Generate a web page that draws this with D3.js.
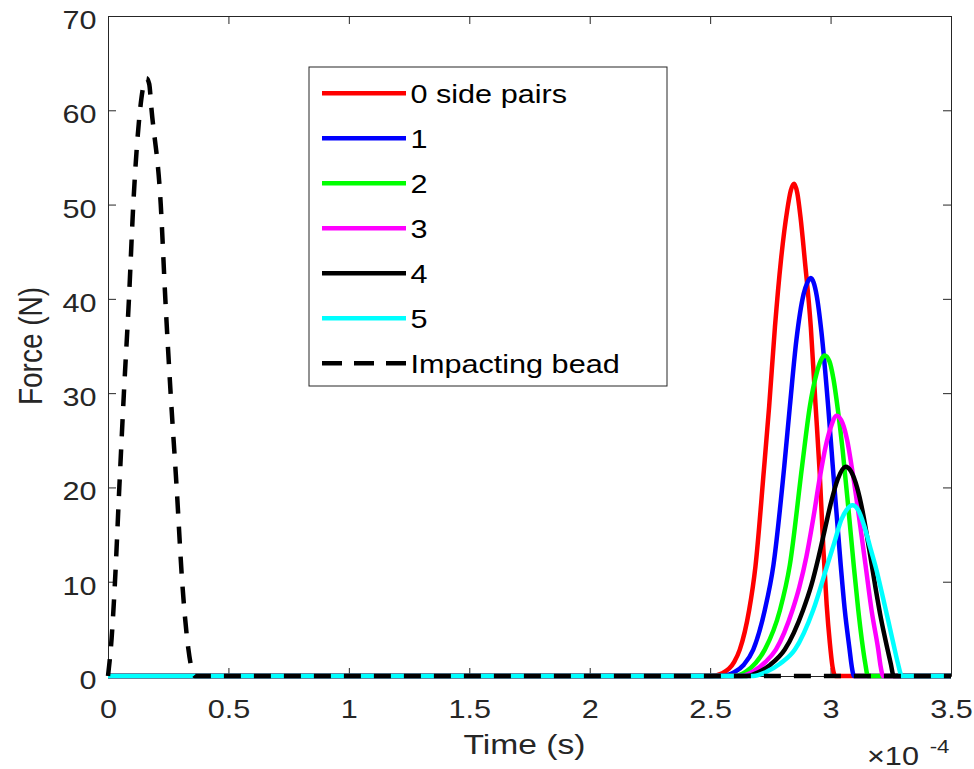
<!DOCTYPE html>
<html>
<head>
<meta charset="utf-8">
<script src="https://cdn.jsdelivr.net/npm/d3@7"></script>
<style>
  html, body { margin: 0; padding: 0; background: #ffffff; }
  svg { display: block; font-family: "Liberation Sans", Arial, Helvetica, sans-serif; }
</style>
</head>
<body>
<svg id="chart" width="974" height="769"></svg>
<script>
// Axis ticks
const xTickValues = [0, 0.5, 1, 1.5, 2, 2.5, 3, 3.5];
const xTickLabels = ["0", "0.5", "1", "1.5", "2", "2.5", "3", "3.5"];
const yTickValues = [0, 10, 20, 30, 40, 50, 60, 70];
const yTickLabels = ["0", "10", "20", "30", "40", "50", "60", "70"];

// Legend entries and colours
const seriesNames = ["0 side pairs", "1", "2", "3", "4", "5", "Impacting bead"];
const seriesColors = ["#ff0000", "#0000ff", "#00ff00", "#ff00ff", "#000000", "#00ffff", "#000000"];

// Force histories: [time (x1e-4 s), force (N)]
const sidePairs0 = [[0,0],[2.50,0],[2.55,0.3],[2.60,1.5],[2.623,2.8],[2.662,7.0],[2.688,11.6],[2.723,21.8],[2.745,28.6],[2.769,37.0],[2.794,44.1],[2.82,49.4],[2.835,51.5],[2.849,52.2],[2.862,51.2],[2.875,48.7],[2.893,44.1],[2.918,37.0],[2.937,29.0],[2.955,21.5],[2.97,13.5],[2.984,7.5],[2.997,3.5],[3.008,1.0],[3.02,0],[3.5,0]];
const sidePairs1 = [[0,0],[2.55,0],[2.60,0.4],[2.64,1.2],[2.679,2.8],[2.727,7.0],[2.763,11.8],[2.808,22.3],[2.831,28.6],[2.858,35.6],[2.888,40.5],[2.903,41.7],[2.918,42.2],[2.93,41.7],[2.942,40.4],[2.962,36.5],[2.99,28.6],[3.009,22.3],[3.042,11.8],[3.059,7.0],[3.078,3.0],[3.088,1.0],[3.097,0],[3.5,0]];
const sidePairs2 = [[0,0],[2.60,0],[2.65,0.5],[2.69,1.4],[2.727,2.8],[2.79,7.0],[2.831,11.8],[2.882,22.3],[2.914,28.6],[2.942,32.1],[2.96,33.5],[2.976,34.0],[2.995,33.4],[3.012,31.5],[3.03,28.3],[3.05,24.0],[3.075,17.5],[3.097,11.5],[3.115,7.0],[3.13,3.8],[3.143,1.5],[3.155,0],[3.5,0]];
const sidePairs3 = [[0,0],[2.63,0],[2.68,0.5],[2.73,1.5],[2.773,2.8],[2.842,7.0],[2.87,9.4],[2.90,12.7],[2.93,17.0],[2.955,21.0],[2.98,24.4],[3.0,26.3],[3.025,27.6],[3.05,26.8],[3.069,25.0],[3.087,22.3],[3.145,11.8],[3.17,7.0],[3.198,2.8],[3.208,1.0],[3.218,0],[3.5,0]];
const sidePairs4 = [[0,0],[2.65,0],[2.70,0.4],[2.75,1.2],[2.81,2.8],[2.886,7.0],[2.92,9.6],[2.95,12.6],[2.975,15.4],[3.0,18.2],[3.03,20.9],[3.063,22.2],[3.085,21.7],[3.11,20.0],[3.135,17.2],[3.16,13.5],[3.185,9.6],[3.21,6.0],[3.235,3.0],[3.25,1.3],[3.262,0],[3.5,0]];
const sidePairs5 = [[0,0],[2.68,0],[2.73,0.4],[2.79,1.3],[2.852,2.8],[2.928,7.0],[2.987,11.8],[3.015,14.1],[3.045,16.6],[3.066,17.6],[3.091,18.1],[3.115,17.6],[3.14,15.9],[3.165,13.6],[3.19,11.3],[3.215,8.6],[3.24,5.8],[3.262,3.3],[3.28,1.3],[3.296,0],[3.5,0]];
const impactingBead = [[0,0],[0.015,4],[0.029,10],[0.047,20],[0.066,30],[0.087,40],[0.105,50],[0.133,60],[0.147,62.6],[0.16,63.4],[0.171,62.8],[0.181,60],[0.219,50],[0.238,40],[0.26,30],[0.285,20],[0.308,10],[0.333,3],[0.361,0],[3.5,0]];

const allSeries = [sidePairs0, sidePairs1, sidePairs2, sidePairs3, sidePairs4, sidePairs5, impactingBead];

// ---- layout ----
const plot = { left: 108, right: 951, top: 16, bottom: 676 };
const axisColor = "#262626";
const textStretch = 1.2;      // horizontal stretch of all lettering
const tickFont = 25.5;
const labelFont = 28;

const svg = d3.select("#chart");
const x = d3.scaleLinear().domain([0, 3.5]).range([plot.left, plot.right]);
const y = d3.scaleLinear().domain([0, 70]).range([plot.bottom, plot.top]);

// text placed at (px, py), stretched horizontally about its anchor
function addText(parent, px, py, str, size, anchor, fill) {
  return parent.append("g")
    .attr("transform", `translate(${px},${py})`)
    .append("text")
    .attr("transform", `scale(${textStretch},1)`)
    .attr("text-anchor", anchor)
    .attr("font-size", size)
    .attr("fill", fill)
    .text(str);
}

// ---- axes (box with inward ticks) ----
function styleAxis(g) {
  g.select(".domain").attr("stroke", axisColor).attr("stroke-width", 1);
  g.selectAll(".tick line").attr("stroke", axisColor).attr("stroke-width", 1);
}

const xAxis = svg.append("g")
  .attr("transform", `translate(0,${plot.bottom})`)
  .call(d3.axisBottom(x).tickValues(xTickValues).tickFormat((d, i) => xTickLabels[i])
    .tickSizeInner(-8).tickSizeOuter(0))
  .call(styleAxis);
xAxis.selectAll(".tick text")
  .attr("y", 42).attr("dy", 0)
  .attr("font-size", tickFont).attr("fill", axisColor)
  .attr("font-family", "Liberation Sans, Arial, sans-serif")
  .attr("transform", `scale(${textStretch},1)`);

const yAxis = svg.append("g")
  .attr("transform", `translate(${plot.left},0)`)
  .call(d3.axisLeft(y).tickValues(yTickValues).tickFormat((d, i) => yTickLabels[i])
    .tickSizeInner(-8).tickSizeOuter(0))
  .call(styleAxis);
yAxis.selectAll(".tick text")
  .attr("x", -11.5 / textStretch).attr("dy", 12.5)
  .attr("font-size", tickFont).attr("fill", axisColor)
  .attr("font-family", "Liberation Sans, Arial, sans-serif")
  .attr("transform", `scale(${textStretch},1)`);

svg.append("g")
  .attr("transform", `translate(0,${plot.top})`)
  .call(d3.axisTop(x).tickValues(xTickValues).tickFormat("").tickSizeInner(-8).tickSizeOuter(0))
  .call(styleAxis);
svg.append("g")
  .attr("transform", `translate(${plot.right},0)`)
  .call(d3.axisRight(y).tickValues(yTickValues).tickFormat("").tickSizeInner(-8).tickSizeOuter(0))
  .call(styleAxis);

// ---- data lines ----
const line = d3.line()
  .x(d => x(d[0]))
  .y(d => y(d[1]))
  .curve(d3.curveMonotoneX);

allSeries.forEach((s, i) => {
  const dashed = i === allSeries.length - 1;
  svg.append("path")
    .datum(s)
    .attr("d", line)
    .attr("fill", "none")
    .attr("stroke", seriesColors[i])
    .attr("stroke-width", 4.5)
    .attr("stroke-linejoin", "round")
    .attr("stroke-dasharray", dashed ? "17 13" : null);
});

// ---- axis labels ----
addText(svg, (plot.left + plot.right) / 2 - 5, 754, "Time (s)", labelFont, "middle", axisColor);

svg.append("g")
  .attr("transform", `translate(42,${(plot.top + plot.bottom) / 2}) scale(${textStretch},1) rotate(-90)`)
  .append("text")
  .attr("text-anchor", "middle")
  .attr("font-size", labelFont)
  .attr("fill", axisColor)
  .text("Force (N)");

// exponent of the time axis
const expo = svg.append("g").attr("transform", `translate(867,765)`)
  .append("text")
  .attr("transform", `scale(${textStretch},1)`)
  .attr("font-size", tickFont)
  .attr("fill", axisColor);
expo.append("tspan").text("\u00d710");
expo.append("tspan").attr("dx", 9).attr("dy", -12).attr("font-size", 18.5).text("-4");

// ---- legend ----
const legend = { left: 309, top: 67, width: 358, height: 319, rowStart: 93.3, rowStep: 45, lineX0: 322, lineX1: 406, textX: 410.5 };
const lg = svg.append("g");
lg.append("rect")
  .attr("x", legend.left).attr("y", legend.top)
  .attr("width", legend.width).attr("height", legend.height)
  .attr("fill", "#ffffff").attr("stroke", axisColor).attr("stroke-width", 1);

seriesNames.forEach((name, i) => {
  const ry = legend.rowStart + i * legend.rowStep;
  const dashed = i === seriesNames.length - 1;
  lg.append("line")
    .attr("x1", legend.lineX0).attr("x2", legend.lineX1)
    .attr("y1", ry).attr("y2", ry)
    .attr("stroke", seriesColors[i]).attr("stroke-width", 4.5)
    .attr("stroke-dasharray", dashed ? "20 12" : null);
  addText(lg, legend.textX, ry + 9.7, name, tickFont, "start", "#000000");
});
</script>
</body>
</html>
